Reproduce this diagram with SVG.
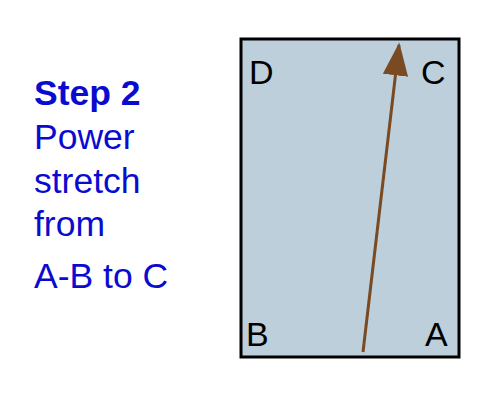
<svg xmlns="http://www.w3.org/2000/svg" width="500" height="400" viewBox="0 0 500 400">
  <style>
    .lbl { font-family: "Liberation Sans", Arial, sans-serif; fill: #0b0bd0; font-size: 35.5px; }
    .corner { font-family: "Liberation Sans", Arial, sans-serif; fill: #000000; font-size: 34px; }
  </style>
  <defs>
    <marker id="arrow" viewBox="0 0 13 10" refX="12" refY="5" markerWidth="11" markerHeight="8.5" markerUnits="strokeWidth" orient="auto">
      <path d="M0,0 L13,5 L0,10 Z" fill="#7a4a22"/>
    </marker>
  </defs>
  <rect width="500" height="400" fill="#ffffff"/>
  <g id="caption">
    <text class="lbl" x="34" y="105" font-weight="bold">Step 2</text>
    <text class="lbl" x="34" y="149">Power</text>
    <text class="lbl" x="34" y="193">stretch</text>
    <text class="lbl" x="34" y="236">from</text>
    <text class="lbl" x="34" y="288">A-B to C</text>
  </g>
  <g id="field">
    <rect x="241" y="39" width="218" height="318" fill="#bccfdb" stroke="#000000" stroke-width="3"/>
    <text class="corner" x="249" y="84">D</text>
    <text class="corner" x="421" y="84">C</text>
    <text class="corner" x="246" y="346">B</text>
    <text class="corner" x="425" y="346">A</text>
  </g>
  <g id="connectors">
    <line x1="363" y1="352" x2="399" y2="45" stroke="#7a4a22" stroke-width="3" marker-end="url(#arrow)"/>
  </g>
</svg>
